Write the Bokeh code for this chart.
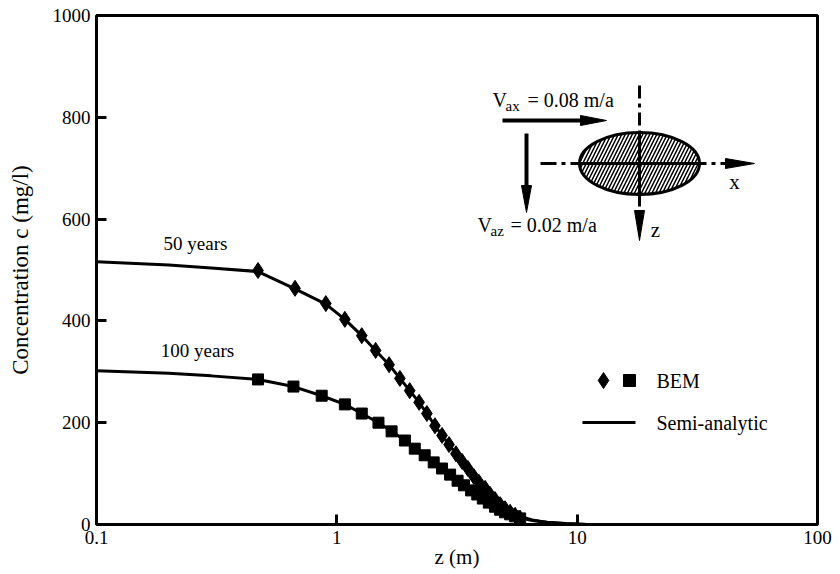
from bokeh.plotting import figure
from bokeh.models import Range1d, LinearScale, FixedTicker, CustomJSTickFormatter
from bokeh.core.properties import value
from bokeh.embed import file_html
from bokeh.resources import INLINE

# ---------------- data ----------------
# 50 years, BEM (diamonds)
z50_bem = [0.47, 0.67, 0.90, 1.08, 1.27, 1.45, 1.65, 1.83, 2.01, 2.20, 2.37, 2.56, 2.74,
           2.93, 3.13, 3.32, 3.51, 3.72, 3.90, 4.14, 4.34, 4.55, 4.78, 5.01, 5.26, 5.52, 5.79]
c50_bem = [499, 464, 434, 403, 371, 342, 314, 287, 263, 240, 218, 194, 175,
           157, 139, 124, 110, 94, 83, 71, 59, 49, 39, 31, 24, 18, 12]
# 50 years, semi-analytic (line)
z50_sa = [0.10, 0.20, 0.30, 0.47, 0.67, 0.90, 1.08, 1.27, 1.45, 1.65, 1.83, 2.01, 2.20, 2.37,
          2.56, 2.74, 2.93, 3.13, 3.32, 3.51, 3.72, 3.90, 4.14, 4.34, 4.55, 4.78, 5.01, 5.26,
          5.52, 5.79, 6.5, 7.5, 9.0, 11.0]
c50_sa = [516, 510, 504, 497, 463, 433, 403, 371, 342, 314, 287, 263, 240, 218,
          194, 175, 157, 139, 124, 110, 95, 84, 72, 61, 51, 42, 34, 27,
          21, 16, 9, 4, 1.5, 0]
# 100 years, BEM (squares)
z100_bem = [0.47, 0.66, 0.865, 1.08, 1.27, 1.49, 1.69, 1.92, 2.11, 2.32, 2.53, 2.74, 2.96,
            3.18, 3.38, 3.62, 3.84, 4.05, 4.29, 4.55, 4.78, 5.01, 5.26, 5.52, 5.79]
c100_bem = [285, 271, 253, 236, 218, 200, 183, 165, 149, 136, 122, 110, 98,
            86, 77, 67, 59, 51, 43, 35, 29, 24, 20, 16, 12]
# 100 years, semi-analytic (line)
z100_sa = [0.10, 0.20, 0.30, 0.47, 0.66, 0.865, 1.08, 1.27, 1.49, 1.69, 1.92, 2.11, 2.32,
           2.53, 2.74, 2.96, 3.18, 3.38, 3.62, 3.84, 4.05, 4.29, 4.55, 4.78, 5.01, 5.26,
           5.52, 5.79, 6.5, 7.5, 9.0, 11.0]
c100_sa = [302, 297, 292, 285, 271, 253, 236, 218, 200, 183, 165, 149, 136,
           122, 110, 98, 86, 77, 67, 59, 51, 43, 36, 30, 25, 21,
           17, 13, 8, 4.5, 2, 0]

x_ticks = [0.1, 1, 10, 100]
y_ticks = [0, 200, 400, 600, 800, 1000]

FONT = "Liberation Serif"

p = figure(width=840, height=574, x_axis_type="log",
           x_range=Range1d(0.1, 100), y_range=Range1d(0, 1000),
           output_backend="svg", toolbar_location=None,
           min_border_left=96, min_border_right=23, min_border_top=15, min_border_bottom=50)

p.background_fill_color = "white"
p.border_fill_color = "white"
p.grid.visible = False
p.outline_line_color = "black"
p.outline_line_width = 3

for ax in (p.xaxis[0], p.yaxis[0]):
    ax.axis_line_color = None
    ax.major_tick_in = 10
    ax.major_tick_out = 0
    ax.major_tick_line_width = 3
    ax.major_tick_line_color = "black"
    ax.minor_tick_line_color = None
    ax.major_label_text_font = FONT
    ax.major_label_text_font_size = "19px"
    ax.major_label_text_color = "black"
    ax.axis_label_text_font = FONT
    ax.axis_label_text_font_size = "21px"
    ax.axis_label_text_font_style = "normal"
    ax.axis_label_text_color = "black"

p.yaxis.axis_label_text_font_size = "23px"
p.xaxis.ticker = FixedTicker(ticks=x_ticks)
p.xaxis.formatter = CustomJSTickFormatter(code="return tick.toString();")
p.yaxis.ticker = FixedTicker(ticks=y_ticks)
p.xaxis.axis_label = "z (m)"
p.yaxis.axis_label = "Concentration c (mg/l)"
p.xaxis.major_label_standoff = 6
p.xaxis.axis_label_standoff = -2
p.yaxis.major_label_standoff = 6
p.yaxis.axis_label_standoff = 17

# ---------------- data marks ----------------
p.line(z50_sa, c50_sa, line_color="black", line_width=3)
p.line(z100_sa, c100_sa, line_color="black", line_width=3)
p.scatter(z50_bem, c50_bem, marker="diamond", size=16, fill_color="black", line_color="black")
p.scatter(z100_bem, c100_bem, marker="square", size=11, fill_color="black", line_color="black")

# ---------------- annotation layer in page pixel units ----------------
p.extra_x_ranges = {"sx": Range1d(96, 817)}
p.extra_x_scales = {"sx": LinearScale()}
p.extra_y_ranges = {"sy": Range1d(524, 15)}
p.extra_y_scales = {"sy": LinearScale()}
kw = dict(x_range_name="sx", y_range_name="sy")

def txt(x, y, s, size="19px", align="left"):
    p.text(x=[x], y=[y], text=[s], text_font=value(FONT), text_font_size=value(size),
           text_align=align, text_baseline="middle", text_color="black", **kw)

# curve labels
txt(195, 243, "50 years", "19px", "center")
txt(197, 350, "100 years", "19px", "center")

# legend
p.scatter([603], [380], marker="diamond", size=16, fill_color="black", line_color="black", **kw)
p.scatter([629], [380], marker="square", size=12, fill_color="black", line_color="black", **kw)
txt(656, 380, "BEM", "20px")
p.line([582, 635], [422, 422], line_color="black", line_width=3, **kw)
txt(656, 422, "Semi-analytic", "20px")

# inset sketch: ellipse with hatch
p.ellipse(x=[639], y=[163], width=[120], height=[62], fill_color="white",
          line_color="black", line_width=3, hatch_pattern="/", hatch_color="black",
          hatch_scale=7, hatch_weight=1.5, **kw)
# dash-dot axes
p.line([540, 728], [163, 163], line_color="black", line_width=3, line_dash="16 5 4 5", **kw)
p.line([639, 639], [85, 212], line_color="black", line_width=3, line_dash="13 5 4 5", **kw)
p.line([579, 699], [163, 163], line_color="black", line_width=3, **kw)
p.line([639, 639], [132, 194], line_color="black", line_width=3, **kw)
p.patch([725, 725, 754], [158, 168, 163], fill_color="black", line_color="black", **kw)
p.patch([634, 644, 639], [210, 210, 240], fill_color="black", line_color="black", **kw)
txt(734, 181, "x", "21px", "center")
txt(655, 229, "z", "21px", "center")

# velocity arrows
p.line([502, 582], [120, 120], line_color="black", line_width=4, **kw)
p.patch([580, 580, 606], [115, 125, 120], fill_color="black", line_color="black", **kw)
p.line([526, 526], [133, 188], line_color="black", line_width=4, **kw)
p.patch([521, 531, 526], [185, 185, 212], fill_color="black", line_color="black", **kw)

txt(492, 99, "V", "20px")
txt(505, 105, "ax", "15px")
txt(527, 99, "= 0.08 m/a", "20px")
txt(477, 224, "V", "20px")
txt(490, 230, "az", "15px")
txt(510, 224, "= 0.02 m/a", "20px")

open("out.html", "w").write(file_html(p, INLINE))
